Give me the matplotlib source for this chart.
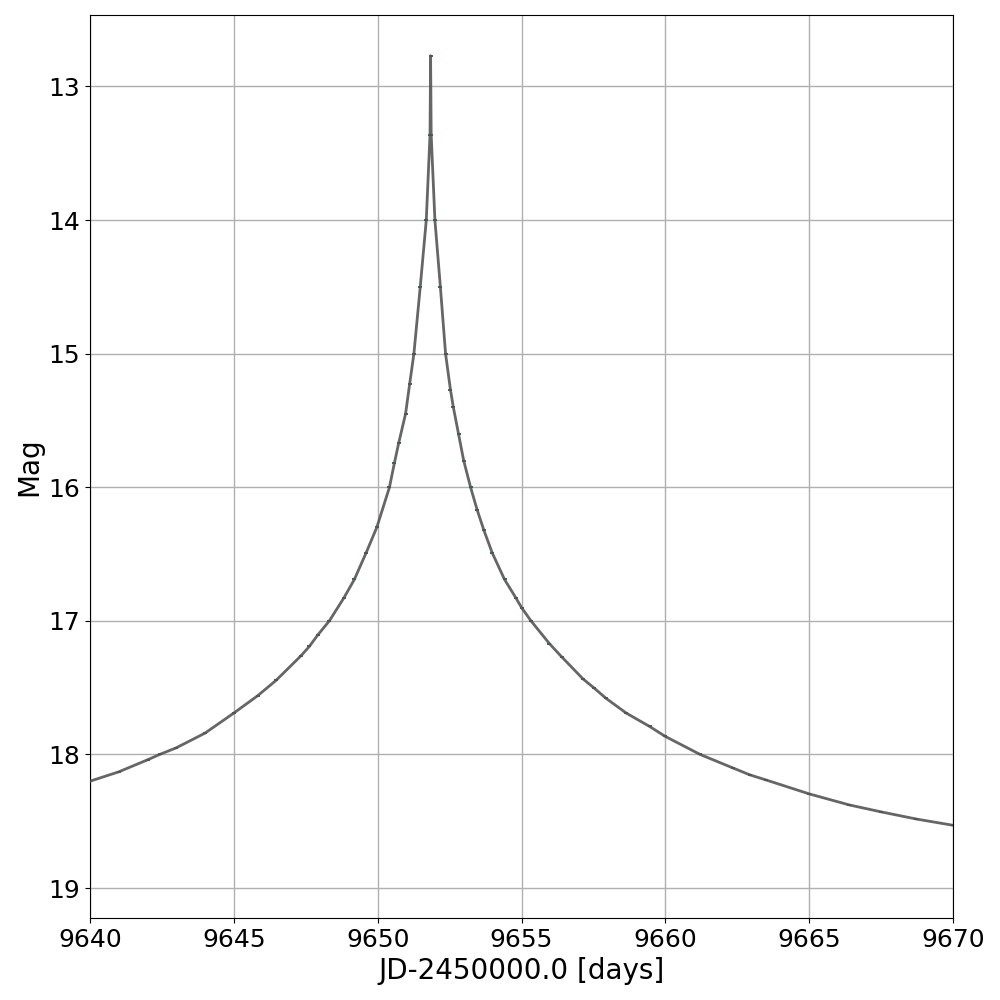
import numpy as np
import matplotlib
matplotlib.use("Agg")
import matplotlib.pyplot as plt

# light curve (JD-2450000, magnitude)
days = [9640.00, 9641.00, 9642.00, 9642.42, 9643.00, 9644.00, 9645.00,
        9645.83, 9646.47, 9647.34, 9647.63, 9647.92, 9648.32, 9648.82,
        9649.19, 9649.60, 9649.97, 9650.41, 9650.58, 9650.73, 9650.97,
        9651.11, 9651.26, 9651.48, 9651.69, 9651.82, 9651.84,
        9651.86, 9651.99, 9652.18, 9652.36, 9652.53, 9652.63, 9652.81,
        9652.99, 9653.23, 9653.46, 9653.69, 9653.98, 9654.41, 9654.81,
        9655.00, 9655.33, 9655.97, 9656.40, 9657.14, 9657.51, 9657.94,
        9658.64, 9659.45, 9660.00, 9661.21, 9662.34, 9662.93, 9663.49,
        9665.00, 9666.40, 9667.51, 9668.72, 9670.00]
mag = [18.20, 18.13, 18.04, 18.00, 17.95, 17.84, 17.69,
       17.56, 17.445, 17.26, 17.19, 17.105, 17.00, 16.83,
       16.69, 16.49, 16.30, 16.00, 15.82, 15.67, 15.45,
       15.23, 15.00, 14.50, 14.00, 13.36, 12.77,
       13.36, 14.00, 14.50, 15.00, 15.27, 15.40, 15.60,
       15.80, 16.00, 16.17, 16.32, 16.49, 16.69, 16.83,
       16.90, 17.00, 17.17, 17.27, 17.435, 17.50, 17.58,
       17.69, 17.79, 17.865, 18.00, 18.10, 18.152, 18.19,
       18.295, 18.378, 18.43, 18.483, 18.53]

xticks = [9640, 9645, 9650, 9655, 9660, 9665, 9670]
yticks = [13, 14, 15, 16, 17, 18, 19]

fig = plt.figure(figsize=(10, 10), dpi=100)
ax = fig.add_axes([0.09, 0.082, 0.863, 0.903])

ax.plot(days, mag, "_", color="#0b5345", ms=3, mew=1.2, zorder=2)
ax.plot(days, mag, "-", color="#555555", lw=2, alpha=0.9, zorder=3)

ax.set_xlim(9640, 9670)
ax.set_ylim(19.224, 12.465)
ax.set_xticks(xticks)
ax.set_yticks(yticks)
ax.tick_params(labelsize=18)
ax.grid(True, color="#b0b0b0", lw=1.0)
ax.set_axisbelow(True)
ax.set_xlabel("JD-2450000.0 [days]", fontsize=20)
ax.set_ylabel("Mag", fontsize=20)

fig.savefig("out.png", dpi=100)
